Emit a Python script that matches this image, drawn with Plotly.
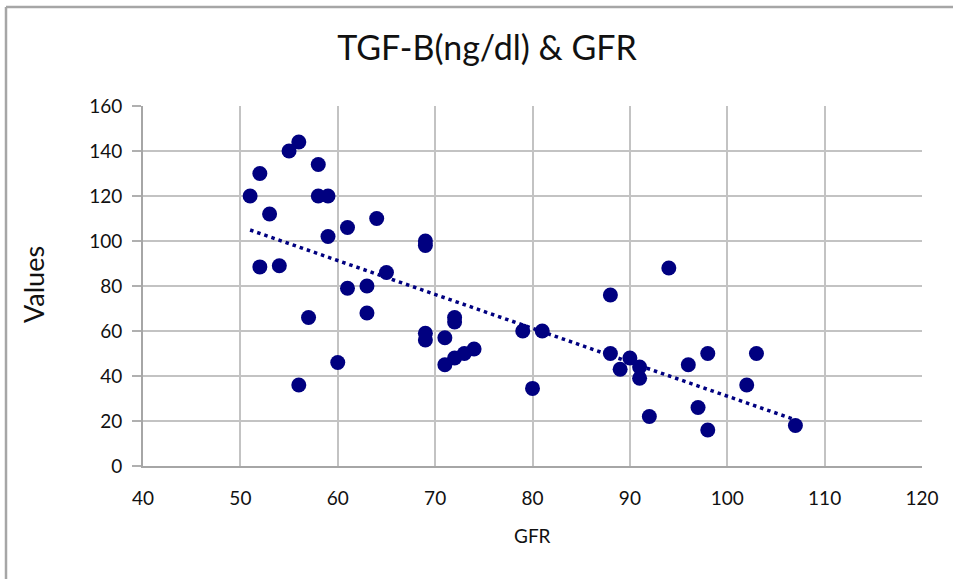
import numpy as np
import plotly.graph_objects as go

# ---- data ----
gfr = [51, 52, 52, 53, 54, 55, 56, 56, 57, 58, 58, 59, 59, 60, 61, 61, 63, 63, 64, 65,
       69, 69, 69, 69, 71, 71, 72, 72, 72, 73, 74, 79, 80, 81, 88, 88, 89, 90, 91, 91,
       92, 94, 96, 97, 98, 98, 102, 103, 107]
tgf = [120, 130, 88.5, 112, 89, 140, 144, 36, 66, 134, 120, 120, 102, 46, 106, 79, 80, 68, 110, 86,
       100, 98, 59, 56, 57, 45, 66, 64, 48, 50, 52, 60, 34.5, 60, 76, 50, 43, 48, 44, 39,
       22, 88, 45, 26, 50, 16, 36, 50, 18]
x_ticks = [40, 50, 60, 70, 80, 90, 100, 110, 120]
y_ticks = [0, 20, 40, 60, 80, 100, 120, 140, 160]
title_text = "TGF-B(ng/dl) & GFR"
x_title = "GFR"
y_title = "Values"

# linear trendline (least squares) over the data range
slope, intercept = np.polyfit(gfr, tgf, 1)
tx = [min(gfr), max(gfr)]
ty = [slope * v + intercept for v in tx]

W, H = 956, 579
# plot area in page pixels
PL, PR, PT, PB = 143, 922, 106, 466
L, T, R, B = PL, PT, W - PR, H - PB
pw, ph = PR - PL, PB - PT

def px2paper_x(px):
    return (px - PL) / pw

def py2paper_y(py):
    return (PB - py) / ph

NAVY = "#000080"
FONT = "Lato, 'Open Sans', sans-serif"
TXT = "#111111"

fig = go.Figure()
fig.add_trace(go.Scatter(
    x=tx, y=ty, mode="lines",
    line=dict(color=NAVY, width=3.5, dash="3.5px,4px"),
    hoverinfo="skip", showlegend=False))
fig.add_trace(go.Scatter(
    x=gfr, y=tgf, mode="markers",
    marker=dict(color=NAVY, size=15, line=dict(width=0)),
    showlegend=False))

fig.update_layout(
    width=W, height=H,
    margin=dict(l=L, r=R, t=T, b=B, autoexpand=False),
    paper_bgcolor="white", plot_bgcolor="white",
    font=dict(family=FONT, color=TXT, size=19),
    showlegend=False,
    title=dict(text=title_text, x=487 / W, xanchor="center", xref="container",
               y=1 - 48 / H, yanchor="middle", yref="container",
               font=dict(family=FONT, size=34, color=TXT)),
)
fig.update_xaxes(
    range=[40, 120], tickvals=x_ticks, ticktext=[str(v) for v in x_ticks],
    showgrid=True, gridcolor="#c3c3c3", gridwidth=1.5,
    zeroline=False, showline=True, linecolor="#a6a6a6", linewidth=2,
    ticks="", ticklabelstandoff=14,
    tickfont=dict(family=FONT, size=19, color=TXT),
)
fig.update_yaxes(
    range=[0, 160], tickvals=y_ticks, ticktext=[str(v) for v in y_ticks],
    showgrid=True, gridcolor="#c3c3c3", gridwidth=1.5,
    zeroline=False, showline=True, linecolor="#a6a6a6", linewidth=2,
    ticks="outside", ticklen=9, tickcolor="#b0b0b0", tickwidth=1.5,
    ticklabelstandoff=6,
    tickfont=dict(family=FONT, size=19, color=TXT),
)

# axis titles
fig.add_annotation(text=x_title, xref="paper", yref="paper",
                   x=px2paper_x(532), y=py2paper_y(535), showarrow=False,
                   xanchor="center", yanchor="middle",
                   font=dict(family=FONT, size=19, color=TXT))
fig.add_annotation(text=y_title, xref="paper", yref="paper",
                   x=px2paper_x(33), y=py2paper_y(285), showarrow=False,
                   textangle=-90, xanchor="center", yanchor="middle",
                   font=dict(family=FONT, size=27, color=TXT))

# outer chart border (left and top edges visible in the crop)
fig.add_shape(type="line", xref="paper", yref="paper",
              x0=px2paper_x(6), x1=px2paper_x(6), y0=py2paper_y(7), y1=py2paper_y(585),
              line=dict(color="#a6a6a6", width=2.5))
fig.add_shape(type="line", xref="paper", yref="paper",
              x0=px2paper_x(6), x1=px2paper_x(953), y0=py2paper_y(7), y1=py2paper_y(7),
              line=dict(color="#a6a6a6", width=2.5))

fig.write_html("out.html",
               config={"displayModeBar": False},
               post_script="document.body.style.margin='0px';document.body.style.overflow='hidden';")
